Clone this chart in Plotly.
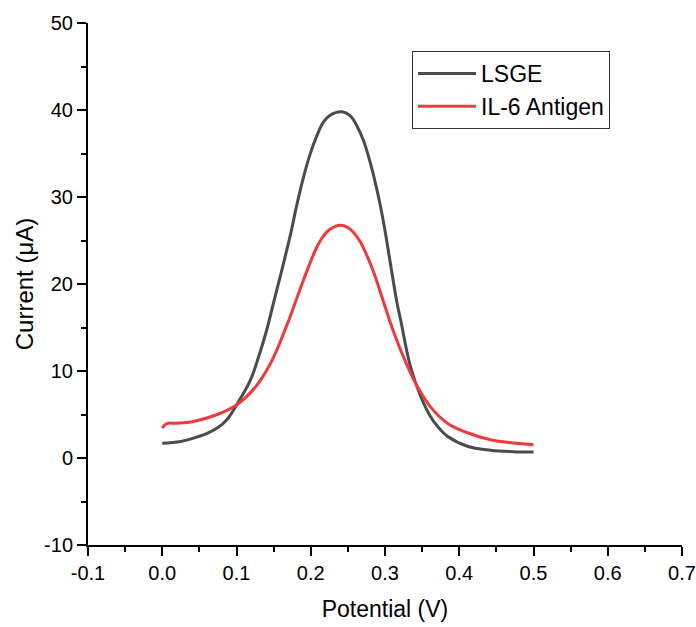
import plotly.graph_objects as go

lsge_x = [0.000, 0.025, 0.050, 0.062, 0.075, 0.087, 0.105, 0.119, 0.130, 0.141,
          0.150, 0.159, 0.173, 0.181, 0.190, 0.199, 0.208, 0.217, 0.226, 0.242,
          0.253, 0.262, 0.271, 0.280, 0.289, 0.298, 0.307, 0.316, 0.321, 0.334,
          0.348, 0.361, 0.372, 0.384, 0.411, 0.442, 0.473, 0.500]
lsge_y = [1.7, 1.9, 2.5, 2.9, 3.5, 4.4, 6.8, 9.0, 11.7, 14.8,
          17.9, 20.9, 25.8, 29.0, 32.2, 34.9, 37.0, 38.6, 39.4, 39.8,
          39.35, 38.2, 36.5, 34.0, 30.9, 27.1, 22.5, 17.9, 15.9, 10.6,
          7.1, 4.8, 3.5, 2.5, 1.35, 0.9, 0.73, 0.68]

il6_x = [0.000, 0.006, 0.020, 0.042, 0.074, 0.100, 0.123, 0.146, 0.168, 0.181,
         0.190, 0.199, 0.208, 0.217, 0.226, 0.240, 0.250, 0.258, 0.267, 0.276,
         0.285, 0.294, 0.312, 0.330, 0.343, 0.361, 0.384, 0.411, 0.442, 0.473,
         0.500]
il6_y = [3.45, 3.95, 4.0, 4.2, 5.0, 6.1, 7.9, 10.9, 15.3, 18.3,
         20.4, 22.4, 24.2, 25.5, 26.3, 26.75, 26.5, 25.9, 24.8, 23.2,
         21.3, 19.0, 14.4, 10.6, 8.3, 5.9, 4.0, 2.9, 2.1, 1.73,
         1.53]

x_ticks = [-0.1, 0.0, 0.1, 0.2, 0.3, 0.4, 0.5, 0.6, 0.7]
y_ticks = [-10, 0, 10, 20, 30, 40, 50]

FONT = "Arial, 'Liberation Sans', sans-serif"

fig = go.Figure()
fig.add_trace(go.Scatter(x=lsge_x, y=lsge_y, mode="lines", name="LSGE",
                         line=dict(color="#4b4b4b", width=3, shape="spline", smoothing=1.1)))
fig.add_trace(go.Scatter(x=il6_x, y=il6_y, mode="lines", name="IL-6 Antigen",
                         line=dict(color="#ef3a3d", width=3, shape="spline", smoothing=1.1)))

axis_common = dict(showgrid=False, zeroline=False, showline=True, linecolor="black",
                   linewidth=2, ticks="outside", ticklen=9, tickwidth=2, tickcolor="black",
                   automargin=False,
                   tickfont=dict(family=FONT, size=20, color="black"))

fig.update_xaxes(range=[-0.1, 0.7], tickvals=x_ticks, ticktext=[f"{v:.1f}" for v in x_ticks],
                 minor=dict(tickvals=[round(v + 0.05, 2) for v in x_ticks[:-1]], ticks="outside",
                            ticklen=5, tickwidth=2, tickcolor="black"),
                 title=dict(text="Potential (V)", font=dict(family=FONT, size=23, color="black"),
                            standoff=18),
                 **axis_common)
fig.update_yaxes(range=[-10, 50], tickvals=y_ticks, ticktext=[str(v) for v in y_ticks],
                 minor=dict(tickvals=[v + 5 for v in y_ticks[:-1]], ticks="outside",
                            ticklen=5, tickwidth=2, tickcolor="black"),
                 title=dict(text="Current (μA)", font=dict(family=FONT, size=24, color="black"),
                            standoff=4),
                 **axis_common)

fig.update_layout(
    width=696, height=627,
    margin=dict(l=88, r=14, t=23, b=82),
    plot_bgcolor="white", paper_bgcolor="white",
    font=dict(family=FONT, color="black"),
    legend=dict(x=0.5455, y=0.9464, xanchor="left", yanchor="top",
                bordercolor="#333333", borderwidth=1, bgcolor="white",
                font=dict(family=FONT, size=23, color="black"),
                tracegroupgap=0, itemwidth=58),
)

fig.write_html("out.html", config={"displayModeBar": False},
               post_script="document.body.style.margin='0';")
